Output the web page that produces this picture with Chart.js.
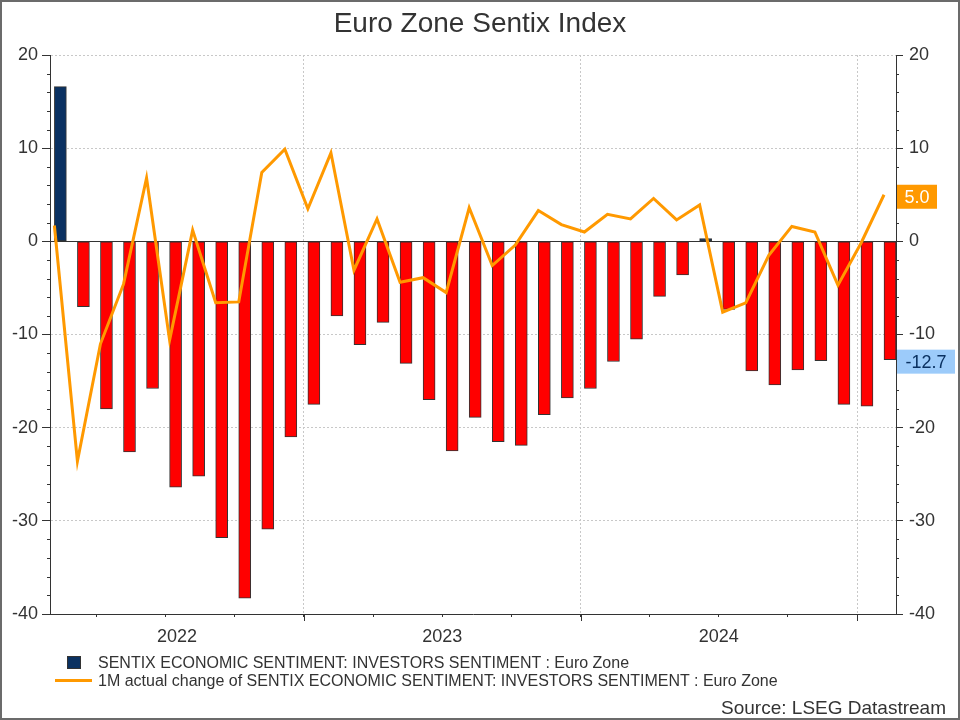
<!DOCTYPE html>
<html>
<head>
<meta charset="utf-8">
<title>Euro Zone Sentix Index</title>
<script src="https://cdn.jsdelivr.net/npm/chart.js@4.4.1/dist/chart.umd.min.js"></script>
<style>
body{margin:0;background:#fff;font-family:'Liberation Sans',Arial,sans-serif;}
#wrap{position:relative;width:960px;height:720px;overflow:hidden;background:#fff;}
#chart{position:absolute;left:0;top:0;}
#frame{position:absolute;left:0;top:0;width:960px;height:720px;box-sizing:border-box;border:2px solid #6b6b6b;pointer-events:none;}
#title{position:absolute;top:9px;left:0;width:960px;text-align:center;font-size:28px;line-height:28px;color:#333;}
.leg{position:absolute;left:98px;font-size:16px;line-height:16px;color:#333;white-space:nowrap;}
#sq{position:absolute;left:67px;top:656px;width:12px;height:11px;background:#0a3161;border:1px solid #333;}
#ln{position:absolute;left:55px;top:679px;width:37px;height:3px;background:#ff9900;}
#source{position:absolute;right:14px;top:698px;font-size:19px;line-height:19px;color:#333;}
</style>
</head>
<body>
<div id="wrap">
  <canvas id="chart" width="960" height="720"></canvas>
  <div id="title">Euro Zone Sentix Index</div>
  <div id="sq"></div>
  <div class="leg" style="top:655px">SENTIX ECONOMIC SENTIMENT: INVESTORS SENTIMENT : Euro Zone</div>
  <div id="ln"></div>
  <div class="leg" style="top:673px">1M actual change of SENTIX ECONOMIC SENTIMENT: INVESTORS SENTIMENT : Euro Zone</div>
  <div id="source">Source: LSEG Datastream</div>
  <div id="frame"></div>
</div>
<script>
// monthly readings, Feb 2022 .. Feb 2025
var months = ['2022-02','2022-03','2022-04','2022-05','2022-06','2022-07','2022-08','2022-09','2022-10','2022-11','2022-12',
  '2023-01','2023-02','2023-03','2023-04','2023-05','2023-06','2023-07','2023-08','2023-09','2023-10','2023-11','2023-12',
  '2024-01','2024-02','2024-03','2024-04','2024-05','2024-06','2024-07','2024-08','2024-09','2024-10','2024-11','2024-12',
  '2025-01','2025-02'];
var sentiment = [16.6, -7.0, -18.0, -22.6, -15.8, -26.4, -25.2, -31.8, -38.3, -30.9, -21.0,
  -17.5, -8.0, -11.1, -8.7, -13.1, -17.0, -22.5, -18.9, -21.5, -21.9, -18.6, -16.8,
  -15.8, -12.9, -10.5, -5.9, -3.6, 0.3, -7.3, -13.9, -15.4, -13.8, -12.8, -17.5,
  -17.7, -12.7];
var change1M = [1.7, -23.6, -11.0, -4.6, 6.8, -10.6, 1.2, -6.6, -6.5, 7.4, 9.9,
  3.5, 9.5, -3.1, 2.4, -4.4, -3.9, -5.5, 3.6, -2.6, -0.4, 3.3, 1.8,
  1.0, 2.9, 2.4, 4.6, 2.3, 3.9, -7.6, -6.6, -1.5, 1.6, 1.0, -4.7,
  -0.2, 5.0];
var yearLabels = ['2022', '2023', '2024'];
var yMin = -40, yMax = 20, yStep = 10, yMinorStep = 2;

var navy = '#0a3161', red = '#ff0000', orange = '#ff9900', edge = '#333333';
var FONT = "'Liberation Sans', Arial, sans-serif";

// months since Jan 2022, released in the first week of the month
function monthPos(s) {
  var p = s.split('-');
  return (Number(p[0]) - 2022) * 12 + (Number(p[1]) - 1) + 0.17;
}

var barPoints = [], linePoints = [];
for (var i = 0; i < months.length; i++) {
  barPoints.push({x: monthPos(months[i]) + 0.26, y: sentiment[i]});
  linePoints.push({x: monthPos(months[i]), y: change1M[i]});
}

var extras = {
  id: 'extras',
  beforeDatasetsDraw: function(chart) {
    var c = chart.ctx, a = chart.chartArea, y0 = Math.round(chart.scales.y.getPixelForValue(0)) + 0.5;
    c.save();
    c.strokeStyle = edge; c.lineWidth = 1;
    c.beginPath(); c.moveTo(a.left, y0); c.lineTo(a.right, y0); c.stroke();
    c.restore();
  },
  afterDraw: function(chart) {
    var c = chart.ctx, a = chart.chartArea, ys = chart.scales.y, xs = chart.scales.x;
    c.save();
    c.strokeStyle = edge; c.lineWidth = 1;
    // minor y ticks
    for (var v = yMin; v <= yMax; v += yMinorStep) {
      if (v % yStep === 0) continue;
      var py = Math.round(ys.getPixelForValue(v)) + 0.5;
      c.beginPath(); c.moveTo(a.left - 3, py); c.lineTo(a.left, py); c.stroke();
      c.beginPath(); c.moveTo(a.right, py); c.lineTo(a.right + 3, py); c.stroke();
    }
    // longer ticks at year boundaries
    for (var m = 12; m < xs.max; m += 12) {
      var px = Math.round(xs.getPixelForValue(m)) + 0.5;
      c.beginPath(); c.moveTo(px, a.bottom); c.lineTo(px, a.bottom + 7); c.stroke();
    }
    // year labels centred on the visible part of each year
    c.fillStyle = '#333'; c.font = '18px ' + FONT; c.textAlign = 'center'; c.textBaseline = 'alphabetic';
    for (var k = 0; k < yearLabels.length; k++) {
      var s = Math.max(k * 12, xs.min), e = Math.min((k + 1) * 12, xs.max);
      c.fillText(yearLabels[k], (xs.getPixelForValue(s) + xs.getPixelForValue(e)) / 2, 642);
    }
    // last value boxes on the right axis
    function tag(val, w, bg, fg) {
      var py = ys.getPixelForValue(val);
      c.fillStyle = bg; c.fillRect(a.right + 1, py - 10, w, 24);
      c.fillStyle = fg; c.textAlign = 'center'; c.textBaseline = 'middle';
      c.fillText(val.toFixed(1), a.right + 1 + w / 2, py + 3);
    }
    tag(change1M[change1M.length - 1], 40, orange, '#ffffff');
    tag(sentiment[sentiment.length - 1], 58, '#9ccbfa', '#0a3161');
    c.restore();
  }
};

new Chart(document.getElementById('chart'), {
  data: {
    datasets: [{
      type: 'line',
      label: '1M actual change of SENTIX ECONOMIC SENTIMENT: INVESTORS SENTIMENT : Euro Zone',
      data: linePoints,
      borderColor: orange,
      borderWidth: 3,
      pointRadius: 0,
      tension: 0,
      order: 0
    }, {
      type: 'bar',
      label: 'SENTIX ECONOMIC SENTIMENT: INVESTORS SENTIMENT : Euro Zone',
      data: barPoints,
      backgroundColor: sentiment.map(function(v) { return v >= 0 ? navy : red; }),
      borderColor: edge,
      borderWidth: 1,
      borderSkipped: false,
      barThickness: 12,
      order: 1
    }]
  },
  options: {
    responsive: false,
    animation: false,
    layout: {padding: {top: 55, left: 0, right: 0, bottom: 0}},
    plugins: {legend: {display: false}, title: {display: false}, tooltip: {enabled: false}},
    scales: {
      x: {
        type: 'linear',
        offset: false,
        min: 0.98,
        max: 37.69,
        afterFit: function(s) { s.height = 106; },
        afterBuildTicks: function(s) {
          var t = [];
          for (var q = 3; q < 37.69; q += 3) t.push({value: q});
          s.ticks = t;
        },
        ticks: {display: false},
        grid: {
          offset: false,
          color: function(ctx) { return ctx.tick && ctx.tick.value % 12 === 0 ? '#c8c8c8' : 'rgba(0,0,0,0)'; },
          tickColor: edge,
          tickLength: 3
        },
        border: {color: edge, width: 1, dash: [2, 2]}
      },
      y: {
        position: 'left',
        min: yMin,
        max: yMax,
        afterFit: function(s) { s.width = 50; },
        ticks: {stepSize: yStep, color: '#333', padding: 4, font: {family: FONT, size: 18}},
        grid: {
          color: function(ctx) { return ctx.tick && ctx.tick.value === 0 ? 'rgba(0,0,0,0)' : '#c8c8c8'; },
          tickColor: edge,
          tickLength: 8
        },
        border: {color: edge, width: 1, dash: [2, 2]}
      },
      y2: {
        position: 'right',
        display: true,
        min: yMin,
        max: yMax,
        afterFit: function(s) { s.width = 64; },
        ticks: {stepSize: yStep, color: '#333', padding: 6, font: {family: FONT, size: 18}},
        grid: {drawOnChartArea: false, tickColor: edge, tickLength: 7},
        border: {color: edge, width: 1}
      }
    }
  },
  plugins: [extras]
});
</script>
</body>
</html>
